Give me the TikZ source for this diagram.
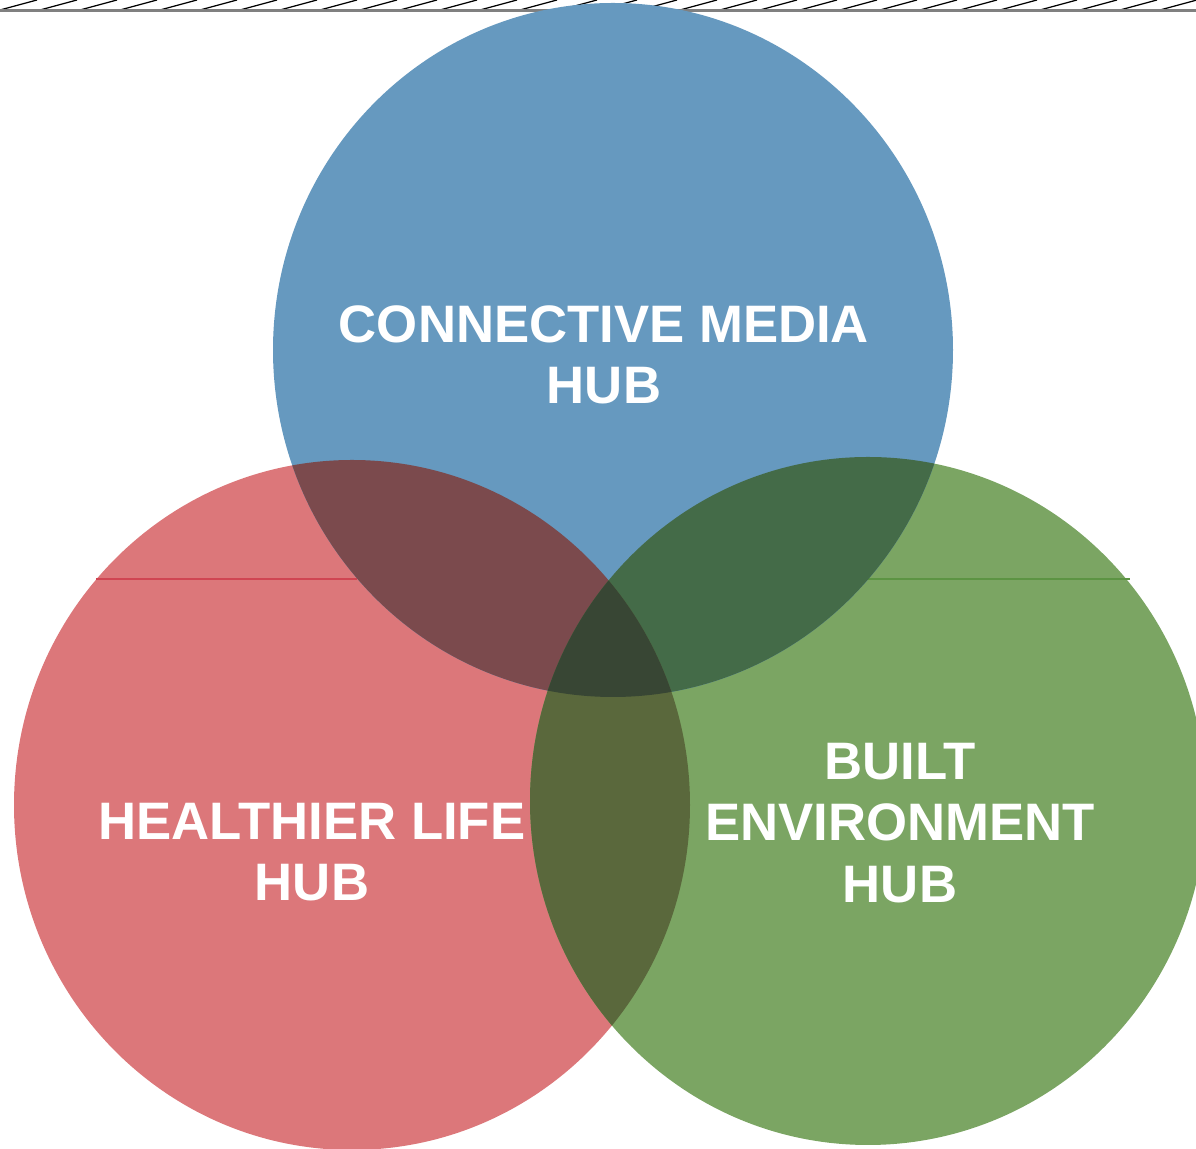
\documentclass[tikz,border=0pt]{standalone}
\usepackage{fontspec}
\setmainfont{Liberation Sans}
\usetikzlibrary{positioning}

\definecolor{mediablue}{HTML}{6699BF}
\definecolor{lifered}{HTML}{DC777A}
\definecolor{builtgreen}{HTML}{7BA563}
\definecolor{mediaLife}{HTML}{7B4A4D}
\definecolor{mediaBuilt}{HTML}{446B48}
\definecolor{lifeBuilt}{HTML}{5A683C}
\definecolor{allHubs}{HTML}{384634}
\definecolor{lifeRule}{HTML}{D04552}
\definecolor{builtRule}{HTML}{5C9443}

\tikzset{
  hublabel/.style = {text = white, font = \bfseries\fontsize{15}{17.5}\selectfont, align = center, inner sep = 0pt}
}

\begin{document}
\begin{tikzpicture}[x = 0.1mm, y = -0.1mm]
  \clip (0, 0) rectangle (1196, 1149);
  \useasboundingbox (0, 0) rectangle (1196, 1149);
  % hatched strip
  \foreach \x in {-40, 0, ..., 1200}
    \draw [line width = 0.35pt] (\x, 10) -- (\x + 37, 0);
  \draw [gray, line width = 0.6pt] (0, 10.5) -- (1196, 10.5);
  % hubs
  \fill [lifered] (352, 805) ellipse [x radius = 338, y radius = 345];
  \fill [builtgreen] (868, 801) ellipse [x radius = 338, y radius = 344];
  \fill [mediablue] (613, 350) ellipse [x radius = 340, y radius = 347];
  \draw [lifeRule, line width = 0.4pt] (96, 579) -- (357, 579);
  \draw [builtRule, line width = 0.4pt] (868, 579) -- (1130, 579);
  % overlaps
  \begin{scope}
    \clip (613, 350) ellipse [x radius = 340, y radius = 347];
    \fill [mediaLife] (352, 805) ellipse [x radius = 338, y radius = 345];
    \fill [mediaBuilt] (868, 801) ellipse [x radius = 338, y radius = 344];
  \end{scope}
  \begin{scope}
    \clip (352, 805) ellipse [x radius = 338, y radius = 345];
    \fill [lifeBuilt] (868, 801) ellipse [x radius = 338, y radius = 344];
    \clip (613, 350) ellipse [x radius = 340, y radius = 347];
    \fill [allHubs] (868, 801) ellipse [x radius = 338, y radius = 344];
  \end{scope}
  % labels
  \node [hublabel] (media) at (604, 355) {CONNECTIVE MEDIA\\HUB};
  \node [hublabel] (life) at (312, 852) {HEALTHIER LIFE\\HUB};
  \node [hublabel] (built) at (900, 823) {BUILT\\ENVIRONMENT\\HUB};
\end{tikzpicture}
\end{document}
